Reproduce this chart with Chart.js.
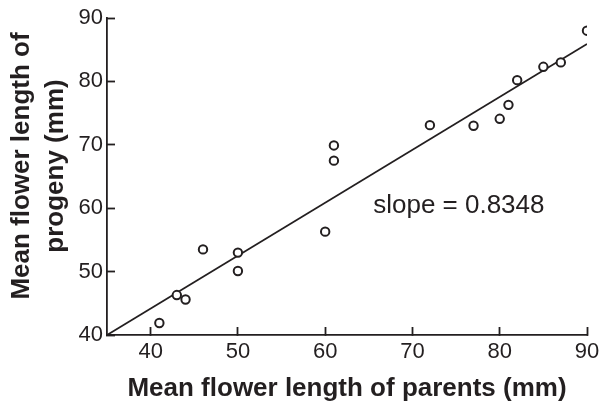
<!DOCTYPE html>
<html lang="en">
<head>
<meta charset="UTF-8">
<title>Flower length: parents vs progeny</title>
<style>
  body { margin: 0; background: #fff; }
</style>
</head>
<body>
<canvas id="chart" width="600" height="405"></canvas>
<script src="https://cdn.jsdelivr.net/npm/chart.js"></script>
<script>
  // mean flower length (mm): parents on x, progeny on y
  const parents = [41, 43, 44, 46, 50, 50, 60, 61, 61, 72, 77, 80, 81, 82, 85, 87, 90];
  const progeny = [41.9, 46.3, 45.6, 53.5, 53.0, 50.1, 56.3, 69.9, 67.5, 73.1, 73.0, 74.1, 76.3, 80.2, 82.3, 83.0, 88.0];
  const xTicks = [40, 50, 60, 70, 80, 90];
  const yTicks = [40, 50, 60, 70, 80, 90];

  // fitted line
  const slope = 0.8348;
  const fitX = [35, 90];
  const fitY0 = 40;

  const ink = '#231f20';
  const family = '"Liberation Sans", Arial, Helvetica, sans-serif';

  const points = parents.map((x, i) => ({ x: x, y: progeny[i] }));
  const fitLine = fitX.map(x => ({ x: x, y: fitY0 + slope * (x - fitX[0]) }));

  // two-line y axis title, drawn by hand so it can sit a bit above centre
  const yTitle = {
    id: 'yTitle',
    afterDraw(chart) {
      const ctx = chart.ctx;
      ctx.save();
      ctx.translate(0, 166);
      ctx.rotate(-Math.PI / 2);
      ctx.font = 'bold 26px ' + family;
      ctx.fillStyle = ink;
      ctx.textAlign = 'center';
      ctx.textBaseline = 'alphabetic';
      ctx.fillText('Mean flower length of', 0, 29);
      ctx.fillText('progeny (mm)', 0, 63);
      ctx.restore();
    }
  };

  const slopeLabel = {
    id: 'slopeLabel',
    afterDatasetsDraw(chart) {
      const { ctx, scales: { x, y } } = chart;
      ctx.save();
      ctx.font = '26px ' + family;
      ctx.fillStyle = ink;
      ctx.textAlign = 'left';
      ctx.textBaseline = 'middle';
      ctx.fillText('slope = ' + slope.toFixed(4), x.getPixelForValue(65.5), y.getPixelForValue(60.4));
      ctx.restore();
    }
  };

  // keep the plot box where layout.padding puts it
  function noEdgePadding(s) {
    s.paddingTop = 0;
    s.paddingBottom = 0;
    s.paddingLeft = 0;
    s.paddingRight = 0;
  }

  new Chart(document.getElementById('chart'), {
    type: 'scatter',
    data: {
      datasets: [{
        data: points,
        order: 0,
        pointRadius: 4.2,
        pointBorderWidth: 2,
        pointBackgroundColor: '#fff',
        pointBorderColor: ink
      }, {
        data: fitLine,
        order: 1,
        showLine: true,
        borderColor: ink,
        borderWidth: 1.8,
        pointRadius: 0
      }]
    },
    options: {
      responsive: false,
      animation: false,
      layout: { padding: { top: 18, right: 13, left: 0, bottom: 0 } },
      plugins: {
        legend: { display: false },
        tooltip: { enabled: false }
      },
      scales: {
        x: {
          type: 'linear',
          min: 35,
          max: 90,
          afterBuildTicks: s => { s.ticks = xTicks.map(v => ({ value: v })); },
          afterFit: s => { s.height = 70; noEdgePadding(s); },
          border: { color: ink, width: 1.8 },
          grid: { drawOnChartArea: false, tickLength: -8, tickColor: ink, tickWidth: 1.8 },
          ticks: { color: ink, padding: 12, font: { family: family, size: 22 } },
          title: {
            display: true,
            text: 'Mean flower length of parents (mm)',
            color: ink,
            padding: { top: 0, bottom: 1 },
            font: { family: family, size: 26, weight: 'bold' }
          }
        },
        y: {
          type: 'linear',
          min: 40,
          max: 90,
          afterBuildTicks: s => { s.ticks = yTicks.map(v => ({ value: v })); },
          afterFit: s => { s.width = 107; noEdgePadding(s); },
          border: { color: ink, width: 1.8 },
          grid: { drawOnChartArea: false, tickLength: -8, tickColor: ink, tickWidth: 1.8 },
          ticks: { color: ink, padding: 12, font: { family: family, size: 22 } }
        }
      }
    },
    plugins: [yTitle, slopeLabel]
  });
</script>
</body>
</html>
